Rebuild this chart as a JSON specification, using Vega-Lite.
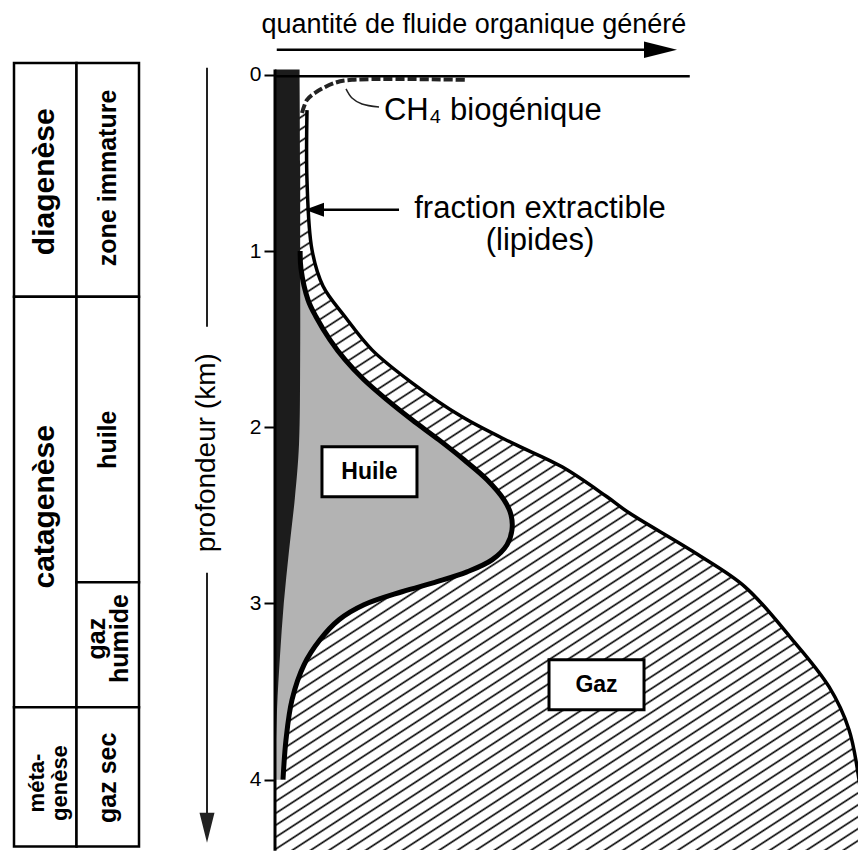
{
  "$schema": "https://vega.github.io/schema/vega-lite/v6.json",
  "background": "white",
  "padding": {"left": 12, "top": 0, "right": 0, "bottom": 0},
  "bounds": "flush",
  "spacing": 53,
  "config": {"view": {"stroke": null}, "font": "Liberation Sans"},
  "datasets": {
    "gaz": [
      {"profondeur": 0.2, "quantite": 0.547},
      {"profondeur": 0.6, "quantite": 0.547},
      {"profondeur": 0.993, "quantite": 0.632},
      {"profondeur": 1.198, "quantite": 0.82},
      {"profondeur": 1.373, "quantite": 1.197},
      {"profondeur": 1.561, "quantite": 1.658},
      {"profondeur": 1.748, "quantite": 2.342},
      {"profondeur": 1.941, "quantite": 3.197},
      {"profondeur": 2.089, "quantite": 4.051},
      {"profondeur": 2.225, "quantite": 4.906},
      {"profondeur": 2.395, "quantite": 5.675},
      {"profondeur": 2.486, "quantite": 6.051},
      {"profondeur": 2.713, "quantite": 7.179},
      {"profondeur": 2.906, "quantite": 8.034},
      {"profondeur": 3.19, "quantite": 8.803},
      {"profondeur": 3.473, "quantite": 9.47},
      {"profondeur": 3.717, "quantite": 9.812},
      {"profondeur": 4.001, "quantite": 9.983},
      {"profondeur": 4.2, "quantite": 10.05},
      {"profondeur": 4.404, "quantite": 10.12}
    ],
    "huile": [
      {"profondeur": 1.0, "quantite": 0.43},
      {"profondeur": 1.1, "quantite": 0.444},
      {"profondeur": 1.277, "quantite": 0.564},
      {"profondeur": 1.373, "quantite": 0.701},
      {"profondeur": 1.504, "quantite": 0.94},
      {"profondeur": 1.617, "quantite": 1.197},
      {"profondeur": 1.731, "quantite": 1.521},
      {"profondeur": 1.845, "quantite": 1.915},
      {"profondeur": 1.958, "quantite": 2.342},
      {"profondeur": 2.072, "quantite": 2.803},
      {"profondeur": 2.185, "quantite": 3.231},
      {"profondeur": 2.298, "quantite": 3.624},
      {"profondeur": 2.412, "quantite": 3.915},
      {"profondeur": 2.497, "quantite": 4.034},
      {"profondeur": 2.582, "quantite": 4.051},
      {"profondeur": 2.667, "quantite": 3.966},
      {"profondeur": 2.753, "quantite": 3.709},
      {"profondeur": 2.821, "quantite": 3.282},
      {"profondeur": 2.877, "quantite": 2.769},
      {"profondeur": 2.934, "quantite": 2.171},
      {"profondeur": 3.008, "quantite": 1.521},
      {"profondeur": 3.093, "quantite": 1.094},
      {"profondeur": 3.207, "quantite": 0.769},
      {"profondeur": 3.349, "quantite": 0.496},
      {"profondeur": 3.547, "quantite": 0.291},
      {"profondeur": 3.774, "quantite": 0.188},
      {"profondeur": 4.001, "quantite": 0.137}
    ],
    "kerogene": [
      {"profondeur": -0.03, "quantite": 0.42},
      {"profondeur": 0.5, "quantite": 0.43},
      {"profondeur": 1.0, "quantite": 0.43},
      {"profondeur": 1.6, "quantite": 0.43},
      {"profondeur": 2.1, "quantite": 0.41},
      {"profondeur": 2.4, "quantite": 0.34},
      {"profondeur": 2.7, "quantite": 0.24},
      {"profondeur": 3.0, "quantite": 0.15},
      {"profondeur": 3.3, "quantite": 0.085},
      {"profondeur": 3.6, "quantite": 0.035},
      {"profondeur": 4.0, "quantite": 0.0}
    ]
  },
  "hconcat": [
    {
      "width": 125,
      "height": 850,
      "layer": [
        {
          "data": {"values": [
            {"colonne": "étape", "debut": -0.068, "fin": 1.26},
            {"colonne": "étape", "debut": 1.26, "fin": 3.59},
            {"colonne": "étape", "debut": 3.59, "fin": 4.38},
            {"colonne": "zone", "debut": -0.068, "fin": 1.26},
            {"colonne": "zone", "debut": 1.26, "fin": 2.88},
            {"colonne": "zone", "debut": 2.88, "fin": 3.59},
            {"colonne": "zone", "debut": 3.59, "fin": 4.38}
          ]},
          "mark": {"type": "rect", "fill": "white", "stroke": "black", "strokeWidth": 2.5},
          "encoding": {
            "x": {"field": "colonne", "type": "nominal", "scale": {"domain": ["étape", "zone"], "paddingInner": 0, "paddingOuter": 0}, "axis": null},
            "y": {"field": "debut", "type": "quantitative", "scale": {"domain": [-0.425, 4.4], "reverse": true, "nice": false, "zero": false}, "axis": null},
            "y2": {"field": "fin"}
          }
        },
        {
          "data": {"values": [
            {"colonne": "étape", "texte": "diagenèse", "profondeur": 0.607},
            {"colonne": "étape", "texte": "catagenèse", "profondeur": 2.452}
          ]},
          "mark": {"type": "text", "angle": 270, "fontSize": 30, "fontWeight": "bold", "align": "center", "baseline": "middle", "color": "black"},
          "encoding": {
            "x": {"field": "colonne", "type": "nominal", "scale": {"domain": ["étape", "zone"], "paddingInner": 0, "paddingOuter": 0}, "axis": null},
            "y": {"field": "profondeur", "type": "quantitative", "scale": {"domain": [-0.425, 4.4], "reverse": true, "nice": false, "zero": false}, "axis": null},
            "text": {"field": "texte"}
          }
        },
        {
          "data": {"values": [
            {"colonne": "zone", "texte": "zone immature", "profondeur": 0.585},
            {"colonne": "zone", "texte": "huile", "profondeur": 2.071},
            {"colonne": "zone", "texte": "gaz sec", "profondeur": 3.99}
          ]},
          "mark": {"type": "text", "angle": 270, "fontSize": 25, "fontWeight": "bold", "align": "center", "baseline": "middle", "color": "black"},
          "encoding": {
            "x": {"field": "colonne", "type": "nominal", "scale": {"domain": ["étape", "zone"], "paddingInner": 0, "paddingOuter": 0}, "axis": null},
            "y": {"field": "profondeur", "type": "quantitative", "scale": {"domain": [-0.425, 4.4], "reverse": true, "nice": false, "zero": false}, "axis": null},
            "text": {"field": "texte"}
          }
        },
        {
          "data": {"values": [
            {"colonne": "zone", "texte": "gaz\nhumide", "profondeur": 3.2}
          ]},
          "mark": {"type": "text", "angle": 270, "fontSize": 25, "fontWeight": "bold", "align": "center", "baseline": "middle", "lineBreak": "\n", "lineHeight": 23, "dy": -11, "color": "black"},
          "encoding": {
            "x": {"field": "colonne", "type": "nominal", "scale": {"domain": ["étape", "zone"], "paddingInner": 0, "paddingOuter": 0}, "axis": null},
            "y": {"field": "profondeur", "type": "quantitative", "scale": {"domain": [-0.425, 4.4], "reverse": true, "nice": false, "zero": false}, "axis": null},
            "text": {"field": "texte"}
          }
        },
        {
          "data": {"values": [
            {"colonne": "étape", "texte": "méta-\ngenèse", "profondeur": 4.02}
          ]},
          "mark": {"type": "text", "angle": 270, "fontSize": 22, "fontWeight": "bold", "align": "center", "baseline": "middle", "lineBreak": "\n", "lineHeight": 23, "dy": -8, "color": "black"},
          "encoding": {
            "x": {"field": "colonne", "type": "nominal", "scale": {"domain": ["étape", "zone"], "paddingInner": 0, "paddingOuter": 0}, "axis": null},
            "y": {"field": "profondeur", "type": "quantitative", "scale": {"domain": [-0.425, 4.4], "reverse": true, "nice": false, "zero": false}, "axis": null},
            "text": {"field": "texte"}
          }
        }
      ]
    },
    {
      "width": 30,
      "height": 850,
      "layer": [
        {
          "data": {"values": [
            {"profondeur": -0.04, "fin": 1.43},
            {"profondeur": 2.826, "fin": 4.25}
          ]},
          "mark": {"type": "rule", "stroke": "#222", "strokeWidth": 2},
          "encoding": {
            "y": {"field": "profondeur", "type": "quantitative", "scale": {"domain": [-0.425, 4.4], "reverse": true, "nice": false, "zero": false}, "axis": null},
            "y2": {"field": "fin"}
          }
        },
        {
          "data": {"values": [{"profondeur": 4.274}]},
          "mark": {"type": "point", "shape": "M-0.5,-1L0.5,-1L0,1Z", "size": 900, "filled": true, "color": "#222", "opacity": 1},
          "encoding": {
            "y": {"field": "profondeur", "type": "quantitative", "scale": {"domain": [-0.425, 4.4], "reverse": true, "nice": false, "zero": false}, "axis": null}
          }
        },
        {
          "data": {"values": [{"profondeur": 2.145, "texte": "profondeur (km)"}]},
          "mark": {"type": "text", "angle": 270, "fontSize": 28, "align": "center", "baseline": "middle", "color": "black"},
          "encoding": {
            "y": {"field": "profondeur", "type": "quantitative", "scale": {"domain": [-0.425, 4.4], "reverse": true, "nice": false, "zero": false}, "axis": null},
            "text": {"field": "texte"}
          }
        }
      ]
    },
    {
      "width": 585,
      "height": 850,
      "encoding": {
        "y": {
          "field": "profondeur", "type": "quantitative",
          "scale": {"domain": [-0.425, 4.4], "reverse": true, "nice": false, "zero": false},
          "axis": {"values": [0, 1, 2, 3, 4], "domain": false, "grid": false, "ticks": true, "tickSize": 11, "tickWidth": 2, "tickColor": "black", "labelFontSize": 21, "labelColor": "black", "labelPadding": 3, "labelFont": "Liberation Sans", "title": null}
        },
        "x": {"field": "quantite", "type": "quantitative", "scale": {"domain": [0, 10], "nice": false, "zero": false}, "axis": null}
      },
      "layer": [
        {
          "data": {"name": "gaz"},
          "mark": {"type": "area", "orient": "horizontal", "interpolate": "catmull-rom", "clip": true,
            "fill": {"gradient": "linear", "x1": 0, "y1": 0, "x2": 0.6584, "y2": 1.2686, "stops": [
{"offset":0.00,"color":"#000"},{"offset":0.0016,"color":"#fff"},{"offset":0.0084,"color":"#fff"},
{"offset":0.01,"color":"#000"},{"offset":0.0116,"color":"#fff"},{"offset":0.0184,"color":"#fff"},
{"offset":0.02,"color":"#000"},{"offset":0.0216,"color":"#fff"},{"offset":0.0284,"color":"#fff"},
{"offset":0.03,"color":"#000"},{"offset":0.0316,"color":"#fff"},{"offset":0.0384,"color":"#fff"},
{"offset":0.04,"color":"#000"},{"offset":0.0416,"color":"#fff"},{"offset":0.0484,"color":"#fff"},
{"offset":0.05,"color":"#000"},{"offset":0.0516,"color":"#fff"},{"offset":0.0584,"color":"#fff"},
{"offset":0.06,"color":"#000"},{"offset":0.0616,"color":"#fff"},{"offset":0.0684,"color":"#fff"},
{"offset":0.07,"color":"#000"},{"offset":0.0716,"color":"#fff"},{"offset":0.0784,"color":"#fff"},
{"offset":0.08,"color":"#000"},{"offset":0.0816,"color":"#fff"},{"offset":0.0884,"color":"#fff"},
{"offset":0.09,"color":"#000"},{"offset":0.0916,"color":"#fff"},{"offset":0.0984,"color":"#fff"},
{"offset":0.10,"color":"#000"},{"offset":0.1016,"color":"#fff"},{"offset":0.1084,"color":"#fff"},
{"offset":0.11,"color":"#000"},{"offset":0.1116,"color":"#fff"},{"offset":0.1184,"color":"#fff"},
{"offset":0.12,"color":"#000"},{"offset":0.1216,"color":"#fff"},{"offset":0.1284,"color":"#fff"},
{"offset":0.13,"color":"#000"},{"offset":0.1316,"color":"#fff"},{"offset":0.1384,"color":"#fff"},
{"offset":0.14,"color":"#000"},{"offset":0.1416,"color":"#fff"},{"offset":0.1484,"color":"#fff"},
{"offset":0.15,"color":"#000"},{"offset":0.1516,"color":"#fff"},{"offset":0.1584,"color":"#fff"},
{"offset":0.16,"color":"#000"},{"offset":0.1616,"color":"#fff"},{"offset":0.1684,"color":"#fff"},
{"offset":0.17,"color":"#000"},{"offset":0.1716,"color":"#fff"},{"offset":0.1784,"color":"#fff"},
{"offset":0.18,"color":"#000"},{"offset":0.1816,"color":"#fff"},{"offset":0.1884,"color":"#fff"},
{"offset":0.19,"color":"#000"},{"offset":0.1916,"color":"#fff"},{"offset":0.1984,"color":"#fff"},
{"offset":0.20,"color":"#000"},{"offset":0.2016,"color":"#fff"},{"offset":0.2084,"color":"#fff"},
{"offset":0.21,"color":"#000"},{"offset":0.2116,"color":"#fff"},{"offset":0.2184,"color":"#fff"},
{"offset":0.22,"color":"#000"},{"offset":0.2216,"color":"#fff"},{"offset":0.2284,"color":"#fff"},
{"offset":0.23,"color":"#000"},{"offset":0.2316,"color":"#fff"},{"offset":0.2384,"color":"#fff"},
{"offset":0.24,"color":"#000"},{"offset":0.2416,"color":"#fff"},{"offset":0.2484,"color":"#fff"},
{"offset":0.25,"color":"#000"},{"offset":0.2516,"color":"#fff"},{"offset":0.2584,"color":"#fff"},
{"offset":0.26,"color":"#000"},{"offset":0.2616,"color":"#fff"},{"offset":0.2684,"color":"#fff"},
{"offset":0.27,"color":"#000"},{"offset":0.2716,"color":"#fff"},{"offset":0.2784,"color":"#fff"},
{"offset":0.28,"color":"#000"},{"offset":0.2816,"color":"#fff"},{"offset":0.2884,"color":"#fff"},
{"offset":0.29,"color":"#000"},{"offset":0.2916,"color":"#fff"},{"offset":0.2984,"color":"#fff"},
{"offset":0.30,"color":"#000"},{"offset":0.3016,"color":"#fff"},{"offset":0.3084,"color":"#fff"},
{"offset":0.31,"color":"#000"},{"offset":0.3116,"color":"#fff"},{"offset":0.3184,"color":"#fff"},
{"offset":0.32,"color":"#000"},{"offset":0.3216,"color":"#fff"},{"offset":0.3284,"color":"#fff"},
{"offset":0.33,"color":"#000"},{"offset":0.3316,"color":"#fff"},{"offset":0.3384,"color":"#fff"},
{"offset":0.34,"color":"#000"},{"offset":0.3416,"color":"#fff"},{"offset":0.3484,"color":"#fff"},
{"offset":0.35,"color":"#000"},{"offset":0.3516,"color":"#fff"},{"offset":0.3584,"color":"#fff"},
{"offset":0.36,"color":"#000"},{"offset":0.3616,"color":"#fff"},{"offset":0.3684,"color":"#fff"},
{"offset":0.37,"color":"#000"},{"offset":0.3716,"color":"#fff"},{"offset":0.3784,"color":"#fff"},
{"offset":0.38,"color":"#000"},{"offset":0.3816,"color":"#fff"},{"offset":0.3884,"color":"#fff"},
{"offset":0.39,"color":"#000"},{"offset":0.3916,"color":"#fff"},{"offset":0.3984,"color":"#fff"},
{"offset":0.40,"color":"#000"},{"offset":0.4016,"color":"#fff"},{"offset":0.4084,"color":"#fff"},
{"offset":0.41,"color":"#000"},{"offset":0.4116,"color":"#fff"},{"offset":0.4184,"color":"#fff"},
{"offset":0.42,"color":"#000"},{"offset":0.4216,"color":"#fff"},{"offset":0.4284,"color":"#fff"},
{"offset":0.43,"color":"#000"},{"offset":0.4316,"color":"#fff"},{"offset":0.4384,"color":"#fff"},
{"offset":0.44,"color":"#000"},{"offset":0.4416,"color":"#fff"},{"offset":0.4484,"color":"#fff"},
{"offset":0.45,"color":"#000"},{"offset":0.4516,"color":"#fff"},{"offset":0.4584,"color":"#fff"},
{"offset":0.46,"color":"#000"},{"offset":0.4616,"color":"#fff"},{"offset":0.4684,"color":"#fff"},
{"offset":0.47,"color":"#000"},{"offset":0.4716,"color":"#fff"},{"offset":0.4784,"color":"#fff"},
{"offset":0.48,"color":"#000"},{"offset":0.4816,"color":"#fff"},{"offset":0.4884,"color":"#fff"},
{"offset":0.49,"color":"#000"},{"offset":0.4916,"color":"#fff"},{"offset":0.4984,"color":"#fff"},
{"offset":0.50,"color":"#000"},{"offset":0.5016,"color":"#fff"},{"offset":0.5084,"color":"#fff"},
{"offset":0.51,"color":"#000"},{"offset":0.5116,"color":"#fff"},{"offset":0.5184,"color":"#fff"},
{"offset":0.52,"color":"#000"},{"offset":0.5216,"color":"#fff"},{"offset":0.5284,"color":"#fff"},
{"offset":0.53,"color":"#000"},{"offset":0.5316,"color":"#fff"},{"offset":0.5384,"color":"#fff"},
{"offset":0.54,"color":"#000"},{"offset":0.5416,"color":"#fff"},{"offset":0.5484,"color":"#fff"},
{"offset":0.55,"color":"#000"},{"offset":0.5516,"color":"#fff"},{"offset":0.5584,"color":"#fff"},
{"offset":0.56,"color":"#000"},{"offset":0.5616,"color":"#fff"},{"offset":0.5684,"color":"#fff"},
{"offset":0.57,"color":"#000"},{"offset":0.5716,"color":"#fff"},{"offset":0.5784,"color":"#fff"},
{"offset":0.58,"color":"#000"},{"offset":0.5816,"color":"#fff"},{"offset":0.5884,"color":"#fff"},
{"offset":0.59,"color":"#000"},{"offset":0.5916,"color":"#fff"},{"offset":0.5984,"color":"#fff"},
{"offset":0.60,"color":"#000"},{"offset":0.6016,"color":"#fff"},{"offset":0.6084,"color":"#fff"},
{"offset":0.61,"color":"#000"},{"offset":0.6116,"color":"#fff"},{"offset":0.6184,"color":"#fff"},
{"offset":0.62,"color":"#000"},{"offset":0.6216,"color":"#fff"},{"offset":0.6284,"color":"#fff"},
{"offset":0.63,"color":"#000"},{"offset":0.6316,"color":"#fff"},{"offset":0.6384,"color":"#fff"},
{"offset":0.64,"color":"#000"},{"offset":0.6416,"color":"#fff"},{"offset":0.6484,"color":"#fff"},
{"offset":0.65,"color":"#000"},{"offset":0.6516,"color":"#fff"},{"offset":0.6584,"color":"#fff"},
{"offset":0.66,"color":"#000"},{"offset":0.6616,"color":"#fff"},{"offset":0.6684,"color":"#fff"},
{"offset":0.67,"color":"#000"},{"offset":0.6716,"color":"#fff"},{"offset":0.6784,"color":"#fff"},
{"offset":0.68,"color":"#000"},{"offset":0.6816,"color":"#fff"},{"offset":0.6884,"color":"#fff"},
{"offset":0.69,"color":"#000"},{"offset":0.6916,"color":"#fff"},{"offset":0.6984,"color":"#fff"},
{"offset":0.70,"color":"#000"},{"offset":0.7016,"color":"#fff"},{"offset":0.7084,"color":"#fff"},
{"offset":0.71,"color":"#000"},{"offset":0.7116,"color":"#fff"},{"offset":0.7184,"color":"#fff"},
{"offset":0.72,"color":"#000"},{"offset":0.7216,"color":"#fff"},{"offset":0.7284,"color":"#fff"},
{"offset":0.73,"color":"#000"},{"offset":0.7316,"color":"#fff"},{"offset":0.7384,"color":"#fff"},
{"offset":0.74,"color":"#000"},{"offset":0.7416,"color":"#fff"},{"offset":0.7484,"color":"#fff"},
{"offset":0.75,"color":"#000"},{"offset":0.7516,"color":"#fff"},{"offset":0.7584,"color":"#fff"},
{"offset":0.76,"color":"#000"},{"offset":0.7616,"color":"#fff"},{"offset":0.7684,"color":"#fff"},
{"offset":0.77,"color":"#000"},{"offset":0.7716,"color":"#fff"},{"offset":0.7784,"color":"#fff"},
{"offset":0.78,"color":"#000"},{"offset":0.7816,"color":"#fff"},{"offset":0.7884,"color":"#fff"},
{"offset":0.79,"color":"#000"},{"offset":0.7916,"color":"#fff"},{"offset":0.7984,"color":"#fff"},
{"offset":0.80,"color":"#000"},{"offset":0.8016,"color":"#fff"},{"offset":0.8084,"color":"#fff"},
{"offset":0.81,"color":"#000"},{"offset":0.8116,"color":"#fff"},{"offset":0.8184,"color":"#fff"},
{"offset":0.82,"color":"#000"},{"offset":0.8216,"color":"#fff"},{"offset":0.8284,"color":"#fff"},
{"offset":0.83,"color":"#000"},{"offset":0.8316,"color":"#fff"},{"offset":0.8384,"color":"#fff"},
{"offset":0.84,"color":"#000"},{"offset":0.8416,"color":"#fff"},{"offset":0.8484,"color":"#fff"},
{"offset":0.85,"color":"#000"},{"offset":0.8516,"color":"#fff"},{"offset":0.8584,"color":"#fff"},
{"offset":0.86,"color":"#000"},{"offset":0.8616,"color":"#fff"},{"offset":0.8684,"color":"#fff"},
{"offset":0.87,"color":"#000"},{"offset":0.8716,"color":"#fff"},{"offset":0.8784,"color":"#fff"},
{"offset":0.88,"color":"#000"},{"offset":0.8816,"color":"#fff"},{"offset":0.8884,"color":"#fff"},
{"offset":0.89,"color":"#000"},{"offset":0.8916,"color":"#fff"},{"offset":0.8984,"color":"#fff"},
{"offset":0.90,"color":"#000"},{"offset":0.9016,"color":"#fff"},{"offset":0.9084,"color":"#fff"},
{"offset":0.91,"color":"#000"},{"offset":0.9116,"color":"#fff"},{"offset":0.9184,"color":"#fff"},
{"offset":0.92,"color":"#000"},{"offset":0.9216,"color":"#fff"},{"offset":0.9284,"color":"#fff"},
{"offset":0.93,"color":"#000"},{"offset":0.9316,"color":"#fff"},{"offset":0.9384,"color":"#fff"},
{"offset":0.94,"color":"#000"},{"offset":0.9416,"color":"#fff"},{"offset":0.9484,"color":"#fff"},
{"offset":0.95,"color":"#000"},{"offset":0.9516,"color":"#fff"},{"offset":0.9584,"color":"#fff"},
{"offset":0.96,"color":"#000"},{"offset":0.9616,"color":"#fff"},{"offset":0.9684,"color":"#fff"},
{"offset":0.97,"color":"#000"},{"offset":0.9716,"color":"#fff"},{"offset":0.9784,"color":"#fff"},
{"offset":0.98,"color":"#000"},{"offset":0.9816,"color":"#fff"},{"offset":0.9884,"color":"#fff"},
{"offset":0.99,"color":"#000"},{"offset":0.9916,"color":"#fff"},{"offset":0.9984,"color":"#fff"},
{"offset":1,"color":"#000"}
            ]}},
          "encoding": {"x2": {"datum": 0}}
        },
        {
          "data": {"name": "huile"},
          "mark": {"type": "area", "orient": "horizontal", "interpolate": "catmull-rom", "fill": "#b3b3b3", "clip": true},
          "encoding": {"x2": {"datum": 0}}
        },
        {
          "data": {"name": "kerogene"},
          "mark": {"type": "area", "orient": "horizontal", "interpolate": "catmull-rom", "fill": "#1c1c1c", "clip": true},
          "encoding": {"x2": {"datum": 0}}
        },
        {
          "data": {"name": "gaz"},
          "mark": {"type": "line", "interpolate": "catmull-rom", "stroke": "black", "strokeWidth": 3.5, "clip": true},
          "encoding": {"order": {"field": "profondeur", "type": "quantitative"}}
        },
        {
          "data": {"name": "huile"},
          "mark": {"type": "line", "interpolate": "catmull-rom", "stroke": "black", "strokeWidth": 5},
          "encoding": {"order": {"field": "profondeur", "type": "quantitative"}}
        },
        {
          "data": {"values": [{"quantite": 0, "profondeur": -0.03, "fin": 4.404}]},
          "mark": {"type": "rule", "stroke": "black", "strokeWidth": 3},
          "encoding": {"y2": {"field": "fin"}}
        },
        {
          "data": {"values": [{"quantite": 0, "fin_q": 7.09, "profondeur": 0.008}]},
          "mark": {"type": "rule", "stroke": "black", "strokeWidth": 2.5},
          "encoding": {"x2": {"field": "fin_q"}}
        },
        {
          "data": {"values": [
            {"quantite": 0.462, "profondeur": 0.216},
            {"quantite": 0.547, "profondeur": 0.142},
            {"quantite": 0.684, "profondeur": 0.102},
            {"quantite": 1.026, "profondeur": 0.045},
            {"quantite": 1.316, "profondeur": 0.028},
            {"quantite": 3.248, "profondeur": 0.028}
          ]},
          "mark": {"type": "line", "interpolate": "catmull-rom", "stroke": "#222", "strokeWidth": 4, "strokeDash": [9, 3]},
          "encoding": {"order": {"field": "quantite", "type": "quantitative"}}
        },
        {
          "data": {"values": [
            {"quantite": 1.214, "profondeur": 0.079},
            {"quantite": 1.316, "profondeur": 0.131},
            {"quantite": 1.487, "profondeur": 0.165},
            {"quantite": 1.778, "profondeur": 0.182}
          ]},
          "mark": {"type": "line", "interpolate": "catmull-rom", "stroke": "#222", "strokeWidth": 1.5},
          "encoding": {"order": {"field": "quantite", "type": "quantitative"}}
        },
        {
          "data": {"values": [{"quantite": 0.8, "fin_q": 2.12, "profondeur": 0.766}]},
          "mark": {"type": "rule", "stroke": "black", "strokeWidth": 2.5},
          "encoding": {"x2": {"field": "fin_q"}}
        },
        {
          "data": {"values": [{"quantite": 0.675, "profondeur": 0.766}]},
          "mark": {"type": "point", "shape": "M1,-0.74L-1,0L1,0.74Z", "size": 361, "filled": true, "color": "black", "opacity": 1}
        },
        {
          "data": {"values": [{"quantite": 0.03, "fin_q": 6.6, "profondeur": -0.142}]},
          "mark": {"type": "rule", "stroke": "black", "strokeWidth": 2.5},
          "encoding": {"x2": {"field": "fin_q"}}
        },
        {
          "data": {"values": [{"quantite": 6.59, "profondeur": -0.142}]},
          "mark": {"type": "point", "shape": "M-1,-0.5L1,0L-1,0.5Z", "size": 1089, "filled": true, "color": "black", "opacity": 1}
        },
        {
          "data": {"values": [
            {"quantite": 0.803, "fin_q": 2.427, "profondeur": 2.111, "fin": 2.395},
            {"quantite": 4.684, "fin_q": 6.308, "profondeur": 3.32, "fin": 3.604}
          ]},
          "mark": {"type": "rect", "fill": "white", "stroke": "black", "strokeWidth": 3},
          "encoding": {"x2": {"field": "fin_q"}, "y2": {"field": "fin"}}
        },
        {
          "data": {"values": [
            {"quantite": 1.615, "profondeur": 2.253, "texte": "Huile"},
            {"quantite": 5.496, "profondeur": 3.462, "texte": "Gaz"}
          ]},
          "mark": {"type": "text", "fontSize": 23, "fontWeight": "bold", "align": "center", "baseline": "middle", "color": "black"},
          "encoding": {"text": {"field": "texte"}}
        },
        {
          "data": {"values": [{"quantite": 1.863, "profondeur": 0.255, "texte": "CH₄ biogénique"}]},
          "mark": {"type": "text", "fontSize": 31, "align": "left", "baseline": "alphabetic", "color": "black"},
          "encoding": {"text": {"field": "texte"}}
        },
        {
          "data": {"values": [
            {"quantite": 4.53, "profondeur": 0.812, "texte": "fraction extractible"},
            {"quantite": 4.53, "profondeur": 0.994, "texte": "(lipides)"}
          ]},
          "mark": {"type": "text", "fontSize": 31, "align": "center", "baseline": "alphabetic", "color": "black"},
          "encoding": {"text": {"field": "texte"}}
        },
        {
          "data": {"values": [{"quantite": 3.4, "profondeur": -0.238, "texte": "quantité de fluide organique généré"}]},
          "mark": {"type": "text", "fontSize": 27, "align": "center", "baseline": "alphabetic", "color": "black"},
          "encoding": {"text": {"field": "texte"}}
        }
      ]
    }
  ]
}
